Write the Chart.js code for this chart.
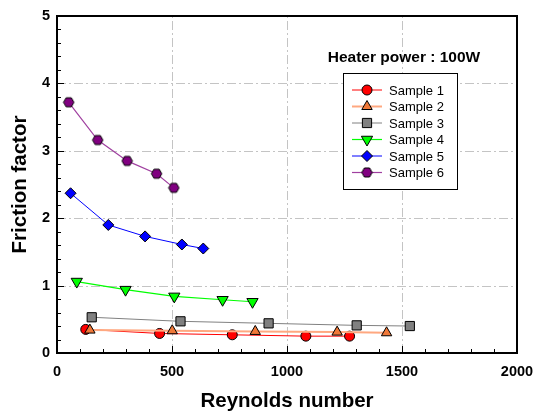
<!DOCTYPE html>
<html>
<head>
<meta charset="utf-8">
<script src="https://cdn.jsdelivr.net/npm/chart.js@4"></script>
<style>
  html, body { margin: 0; padding: 0; background: #fff; }
  #wrap { width: 535px; height: 416px; }
</style>
</head>
<body>
<div id="wrap"><canvas id="chart"></canvas></div>
<script>
// data
const sampleNames = ['Sample 1', 'Sample 2', 'Sample 3', 'Sample 4', 'Sample 5', 'Sample 6'];
const re1 = [125, 446, 762, 1082, 1272];
const f1 = [0.35, 0.29, 0.27, 0.25, 0.25];
const re2 = [143, 501, 862, 1218, 1433];
const f2 = [0.34, 0.33, 0.32, 0.31, 0.30];
const re3 = [151, 537, 920, 1303, 1534];
const f3 = [0.53, 0.47, 0.44, 0.41, 0.40];
const re4 = [86, 298, 510, 720, 850];
const f4 = [1.06, 0.94, 0.84, 0.79, 0.76];
const re5 = [59, 223, 383, 543, 636];
const f5 = [2.37, 1.90, 1.73, 1.61, 1.55];
const re6 = [51, 177, 305, 433, 508];
const f6 = [3.72, 3.16, 2.85, 2.66, 2.45];
const xTicks = [0, 500, 1000, 1500, 2000];
const yTicks = [0, 1, 2, 3, 4, 5];
const noteText = 'Heater power : 100W';

const FONT = "'Liberation Sans', Arial, sans-serif";

// hexagon marker image (not a built-in point style)
function hexagon(fill, r) {
  const c = document.createElement('canvas');
  const s = Math.ceil(r * 2 + 2);
  c.width = s; c.height = s;
  const g = c.getContext('2d');
  g.beginPath();
  for (let i = 0; i < 6; i++) {
    const a = Math.PI / 3 * i;
    const px = s / 2 + r * Math.cos(a), py = s / 2 + r * Math.sin(a);
    i === 0 ? g.moveTo(px, py) : g.lineTo(px, py);
  }
  g.closePath();
  g.fillStyle = fill;
  g.fill();
  g.lineWidth = 1;
  g.strokeStyle = '#000';
  g.stroke();
  return c;
}
const hexImg = hexagon('#800080', 5.2);

const styles = [
  { line: '#ff0000', fill: '#ff0000', shape: 'circle', rot: 0, r: 5, lw: 1 },
  { line: '#ffa880', fill: '#f07838', shape: 'triangle', rot: 0, r: 6, lw: 2 },
  { line: '#808080', fill: '#808080', shape: 'rect', rot: 0, r: 6.5, lw: 1 },
  { line: '#00ff00', fill: '#00ff00', shape: 'triangle', rot: 180, r: 6.5, lw: 1.2 },
  { line: '#0000ff', fill: '#0000ff', shape: 'rectRot', rot: 0, r: 5.5, lw: 1 },
  { line: '#a040a0', fill: '#800080', shape: hexImg, rot: 0, r: 5.2, lw: 1.2 }
];

const xs = [re1, re2, re3, re4, re5, re6];
const ys = [f1, f2, f3, f4, f5, f6];

const datasets = sampleNames.map((name, i) => ({
  label: name,
  data: xs[i].map((x, k) => ({ x: x, y: ys[i][k] })),
  showLine: true,
  borderColor: styles[i].line,
  borderWidth: styles[i].lw,
  backgroundColor: styles[i].fill,
  pointBackgroundColor: styles[i].fill,
  pointBorderColor: '#000',
  pointBorderWidth: 1,
  pointStyle: styles[i].shape,
  pointRotation: styles[i].rot,
  pointRadius: styles[i].r,
  pointHoverRadius: styles[i].r,
  tension: 0,
  order: sampleNames.length - i
}));

function drawMarker(ctx, st, x, y) {
  ctx.save();
  ctx.fillStyle = st.fill;
  ctx.strokeStyle = '#000';
  ctx.lineWidth = 1;
  const r = st.r;
  if (st.shape === 'circle') {
    ctx.beginPath(); ctx.arc(x, y, r, 0, Math.PI * 2);
  } else if (st.shape === 'triangle') {
    const d = st.rot === 180 ? -1 : 1;
    ctx.beginPath();
    ctx.moveTo(x, y - d * r);
    ctx.lineTo(x - r * 0.866, y + d * r * 0.5);
    ctx.lineTo(x + r * 0.866, y + d * r * 0.5);
    ctx.closePath();
  } else if (st.shape === 'rect') {
    const h = r * 0.707;
    ctx.beginPath(); ctx.rect(x - h, y - h, 2 * h, 2 * h);
  } else if (st.shape === 'rectRot') {
    ctx.beginPath();
    ctx.moveTo(x, y - r); ctx.lineTo(x + r, y); ctx.lineTo(x, y + r); ctx.lineTo(x - r, y);
    ctx.closePath();
  } else {
    ctx.drawImage(st.shape, x - st.shape.width / 2, y - st.shape.height / 2);
    ctx.restore();
    return;
  }
  ctx.fill();
  ctx.stroke();
  ctx.restore();
}

// dash-dot grid behind the data
const grid = {
  id: 'grid',
  beforeDatasetsDraw(chart) {
    const ctx = chart.ctx;
    const a = chart.chartArea;
    const sx = chart.scales.x, sy = chart.scales.y;
    ctx.save();
    ctx.strokeStyle = '#c4c4c4';
    ctx.lineWidth = 1;
    ctx.setLineDash([9, 3, 2, 3]);
    xTicks.slice(1, -1).forEach(v => {
      const px = Math.round(sx.getPixelForValue(v)) + 0.5;
      ctx.beginPath(); ctx.moveTo(px, a.bottom); ctx.lineTo(px, a.top); ctx.stroke();
    });
    yTicks.slice(1, -1).forEach(v => {
      const py = Math.round(sy.getPixelForValue(v)) + 0.5;
      ctx.beginPath(); ctx.moveTo(a.left, py); ctx.lineTo(a.right, py); ctx.stroke();
    });
    ctx.restore();
  }
};

// frame, minor ticks, note and legend box
const extras = {
  id: 'extras',
  afterDraw(chart) {
    const ctx = chart.ctx;
    const a = chart.chartArea;
    const sx = chart.scales.x, sy = chart.scales.y;
    ctx.save();
    ctx.strokeStyle = '#000';
    ctx.lineWidth = 1;
    for (let v = 100; v < 2000; v += 100) {
      const px = Math.round(sx.getPixelForValue(v)) + 0.5;
      const len = v % 500 === 0 ? 7 : 4;
      ctx.beginPath(); ctx.moveTo(px, a.bottom); ctx.lineTo(px, a.bottom - len); ctx.stroke();
    }
    for (let v = 0.2; v < 5; v += 0.2) {
      const py = Math.round(sy.getPixelForValue(v)) + 0.5;
      const len = Math.abs(v - Math.round(v)) < 0.01 ? 7 : 4;
      ctx.beginPath(); ctx.moveTo(a.left, py); ctx.lineTo(a.left + len, py); ctx.stroke();
    }
    ctx.lineWidth = 2;
    ctx.strokeRect(a.left, a.top, a.right - a.left, a.bottom - a.top);

    // note
    ctx.fillStyle = '#000';
    ctx.font = 'bold 15.5px ' + FONT;
    ctx.textAlign = 'center';
    ctx.textBaseline = 'middle';
    ctx.fillText(noteText, 404, 58);

    // legend
    const bx = 343, by = 73, bw = 114, bh = 116;
    ctx.fillStyle = '#fff';
    ctx.fillRect(bx, by, bw, bh);
    ctx.lineWidth = 1;
    ctx.strokeStyle = '#000';
    ctx.strokeRect(bx + 0.5, by + 0.5, bw, bh);
    ctx.font = '13px ' + FONT;
    ctx.textAlign = 'left';
    sampleNames.forEach((name, i) => {
      const y = 90 + i * 16.5;
      const st = styles[i];
      ctx.strokeStyle = st.line;
      ctx.lineWidth = st.lw;
      ctx.beginPath(); ctx.moveTo(352, y); ctx.lineTo(382, y); ctx.stroke();
      drawMarker(ctx, st, 367, y);
      ctx.fillStyle = '#000';
      ctx.fillText(name, 389, y + 1);
    });
    ctx.restore();
  }
};

new Chart(document.getElementById('chart'), {
  type: 'scatter',
  data: { datasets: datasets },
  plugins: [grid, extras],
  options: {
    responsive: true,
    maintainAspectRatio: false,
    animation: false,
    layout: { padding: { top: 16, right: 18, left: 0, bottom: 0 } },
    plugins: { legend: { display: false }, tooltip: { enabled: false } },
    scales: {
      x: {
        type: 'linear', min: 0, max: 2000,
        afterBuildTicks: (s) => { s.ticks = xTicks.map(v => ({ value: v })); },
        afterFit: (s) => { s.height = 63; s.paddingLeft = 0; s.paddingRight = 0; },
        ticks: { color: '#000', padding: 10, maxRotation: 0, callback: (v) => String(v), font: { family: FONT, size: 14.5, weight: 'bold' } },
        grid: { display: false, drawTicks: false, tickLength: 0 },
        border: { display: false },
        title: { display: true, text: 'Reynolds number', color: '#000', padding: { top: 0, bottom: 2 }, font: { family: FONT, size: 20.5, weight: 'bold' } }
      },
      y: {
        type: 'linear', min: 0, max: 5,
        afterBuildTicks: (s) => { s.ticks = yTicks.map(v => ({ value: v })); },
        afterFit: (s) => { s.width = 57; s.paddingTop = 0; s.paddingBottom = 0; },
        ticks: { color: '#000', padding: 7, callback: (v) => String(v), font: { family: FONT, size: 14.5, weight: 'bold' } },
        grid: { display: false, drawTicks: false },
        border: { display: false },
        title: { display: true, text: 'Friction factor', color: '#000', padding: { top: 8, bottom: 0 }, font: { family: FONT, size: 20.5, weight: 'bold' } }
      }
    }
  }
});
</script>
</body>
</html>
